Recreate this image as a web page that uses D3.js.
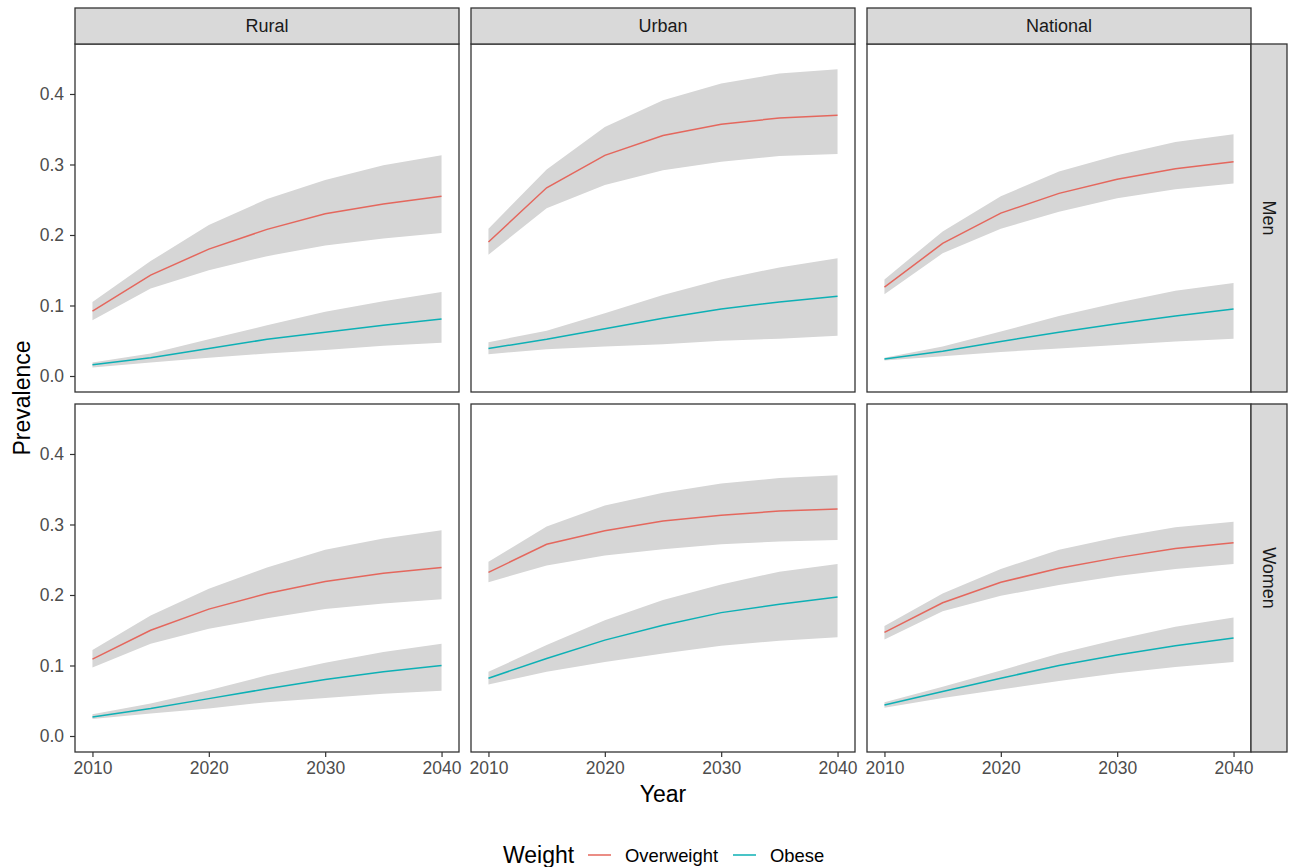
<!DOCTYPE html>
<html>
<head>
<meta charset="utf-8">
<script src="https://cdn.jsdelivr.net/npm/d3@7"></script>
<style>
  body { margin: 0; background: #fff; }
  text { font-family: "Liberation Sans", Arial, sans-serif; }
</style>
</head>
<body>
<div id="chart"></div>
<script>
// years modelled
var years = [2010, 2015, 2020, 2025, 2030, 2035, 2040];
var areas = ["Rural", "Urban", "National"];
var sexes = ["Men", "Women"];
var yTicks = [0.0, 0.1, 0.2, 0.3, 0.4];
var xTicks = [2010, 2020, 2030, 2040];

// men - overweight (mean, lower, upper)
var ruralMenOver    = [0.092, 0.143, 0.180, 0.208, 0.230, 0.244, 0.255];
var ruralMenOverLo  = [0.079, 0.124, 0.150, 0.170, 0.185, 0.195, 0.203];
var ruralMenOverHi  = [0.105, 0.163, 0.214, 0.251, 0.278, 0.299, 0.313];
var urbanMenOver    = [0.190, 0.267, 0.313, 0.341, 0.357, 0.366, 0.370];
var urbanMenOverLo  = [0.172, 0.238, 0.271, 0.292, 0.304, 0.312, 0.315];
var urbanMenOverHi  = [0.209, 0.293, 0.353, 0.391, 0.415, 0.429, 0.435];
var natMenOver      = [0.126, 0.188, 0.231, 0.259, 0.279, 0.294, 0.304];
var natMenOverLo    = [0.116, 0.174, 0.209, 0.233, 0.252, 0.265, 0.273];
var natMenOverHi    = [0.137, 0.205, 0.255, 0.290, 0.313, 0.332, 0.343];

// men - obese
var ruralMenObese   = [0.016, 0.026, 0.039, 0.052, 0.062, 0.072, 0.081];
var ruralMenObeseLo = [0.012, 0.019, 0.026, 0.032, 0.037, 0.043, 0.047];
var ruralMenObeseHi = [0.019, 0.032, 0.052, 0.072, 0.091, 0.106, 0.119];
var urbanMenObese   = [0.039, 0.052, 0.067, 0.082, 0.095, 0.105, 0.113];
var urbanMenObeseLo = [0.031, 0.038, 0.042, 0.045, 0.050, 0.053, 0.057];
var urbanMenObeseHi = [0.048, 0.064, 0.089, 0.115, 0.137, 0.154, 0.167];
var natMenObese     = [0.024, 0.035, 0.049, 0.062, 0.074, 0.085, 0.095];
var natMenObeseLo   = [0.022, 0.028, 0.034, 0.039, 0.044, 0.049, 0.053];
var natMenObeseHi   = [0.026, 0.042, 0.063, 0.085, 0.104, 0.121, 0.132];

// women - overweight
var ruralWomOver    = [0.109, 0.150, 0.180, 0.202, 0.219, 0.231, 0.239];
var ruralWomOverLo  = [0.097, 0.131, 0.152, 0.167, 0.180, 0.188, 0.194];
var ruralWomOverHi  = [0.122, 0.171, 0.209, 0.239, 0.264, 0.280, 0.292];
var urbanWomOver    = [0.232, 0.272, 0.291, 0.305, 0.313, 0.319, 0.322];
var urbanWomOverLo  = [0.218, 0.242, 0.256, 0.265, 0.272, 0.276, 0.278];
var urbanWomOverHi  = [0.247, 0.297, 0.327, 0.345, 0.358, 0.366, 0.370];
var natWomOver      = [0.147, 0.189, 0.218, 0.238, 0.253, 0.266, 0.274];
var natWomOverLo    = [0.137, 0.177, 0.199, 0.214, 0.227, 0.237, 0.244];
var natWomOverHi    = [0.156, 0.202, 0.237, 0.264, 0.282, 0.296, 0.304];

// women - obese
var ruralWomObese   = [0.027, 0.039, 0.053, 0.067, 0.080, 0.091, 0.100];
var ruralWomObeseLo = [0.024, 0.032, 0.039, 0.048, 0.054, 0.060, 0.064];
var ruralWomObeseHi = [0.031, 0.046, 0.065, 0.086, 0.104, 0.119, 0.131];
var urbanWomObese   = [0.082, 0.110, 0.136, 0.157, 0.175, 0.187, 0.197];
var urbanWomObeseLo = [0.073, 0.091, 0.105, 0.117, 0.128, 0.135, 0.140];
var urbanWomObeseHi = [0.091, 0.129, 0.164, 0.193, 0.215, 0.233, 0.244];
var natWomObese     = [0.044, 0.063, 0.082, 0.100, 0.115, 0.128, 0.139];
var natWomObeseLo   = [0.040, 0.054, 0.066, 0.078, 0.089, 0.098, 0.105];
var natWomObeseHi   = [0.048, 0.070, 0.093, 0.117, 0.137, 0.155, 0.168];

var panels = {
  "Men": {
    "Rural":    [[ruralMenOver, ruralMenOverLo, ruralMenOverHi], [ruralMenObese, ruralMenObeseLo, ruralMenObeseHi]],
    "Urban":    [[urbanMenOver, urbanMenOverLo, urbanMenOverHi], [urbanMenObese, urbanMenObeseLo, urbanMenObeseHi]],
    "National": [[natMenOver, natMenOverLo, natMenOverHi], [natMenObese, natMenObeseLo, natMenObeseHi]]
  },
  "Women": {
    "Rural":    [[ruralWomOver, ruralWomOverLo, ruralWomOverHi], [ruralWomObese, ruralWomObeseLo, ruralWomObeseHi]],
    "Urban":    [[urbanWomOver, urbanWomOverLo, urbanWomOverHi], [urbanWomObese, urbanWomObeseLo, urbanWomObeseHi]],
    "National": [[natWomOver, natWomOverLo, natWomOverHi], [natWomObese, natWomObeseLo, natWomObeseHi]]
  }
};

var seriesNames = ["Overweight", "Obese"];
var colors = ["#e4675d", "#0db0b5"];

var width = 1291, height = 867;
var panelW = 384, panelH = 348, gap = 12;
var left0 = 75, top0 = 44, stripH = 36, stripW = 36;

var svg = d3.select("#chart").append("svg")
    .attr("width", width)
    .attr("height", height);

var x = d3.scaleLinear().domain([2008.5, 2041.5]).range([0, panelW]);
var y = d3.scaleLinear().domain([-0.0227, 0.4709]).range([panelH, 0]);

var line = d3.line()
    .x(function(d) { return x(d.year); })
    .y(function(d) { return y(d.v); });
var area = d3.area()
    .x(function(d) { return x(d.year); })
    .y0(function(d) { return y(d.lo); })
    .y1(function(d) { return y(d.hi); });

sexes.forEach(function(sex, r) {
  areas.forEach(function(ar, c) {
    var px = left0 + c * (panelW + gap);
    var py = top0 + r * (panelH + gap);
    var g = svg.append("g").attr("transform", "translate(" + px + "," + py + ")");

    g.append("rect").attr("width", panelW).attr("height", panelH).attr("fill", "#fff");

    panels[sex][ar].forEach(function(s, k) {
      var pts = years.map(function(yr, i) { return {year: yr, v: s[0][i], lo: s[1][i], hi: s[2][i]}; });
      g.append("path").datum(pts)
        .attr("d", area)
        .attr("fill", "#d6d6d6");
      g.append("path").datum(pts)
        .attr("d", line)
        .attr("fill", "none")
        .attr("stroke", colors[k])
        .attr("stroke-width", 1.5);
    });

    g.append("rect").attr("width", panelW).attr("height", panelH)
      .attr("fill", "none").attr("stroke", "#333").attr("stroke-width", 1.3);

    // y axis on first column
    if (c === 0) {
      var ya = g.append("g").call(d3.axisLeft(y).tickValues(yTicks).tickFormat(d3.format(".1f")).tickSize(5).tickPadding(6));
      ya.select(".domain").remove();
      ya.selectAll("line").attr("stroke", "#333").attr("stroke-width", 1.2);
      ya.selectAll("text").attr("fill", "#4d4d4d").style("font-size", "17.5px");
    }
    // x axis on bottom row
    if (r === sexes.length - 1) {
      var xa = g.append("g").attr("transform", "translate(0," + panelH + ")")
        .call(d3.axisBottom(x).tickValues(xTicks).tickFormat(d3.format("d")).tickSize(5).tickPadding(5));
      xa.select(".domain").remove();
      xa.selectAll("line").attr("stroke", "#333").attr("stroke-width", 1.2);
      xa.selectAll("text").attr("fill", "#4d4d4d").style("font-size", "17.5px");
    }
    // column strips
    if (r === 0) {
      var st = svg.append("g").attr("transform", "translate(" + px + "," + (top0 - stripH) + ")");
      st.append("rect").attr("width", panelW).attr("height", stripH)
        .attr("fill", "#d9d9d9").attr("stroke", "#333").attr("stroke-width", 1.3);
      st.append("text").attr("x", panelW / 2).attr("y", stripH / 2)
        .attr("text-anchor", "middle").attr("dominant-baseline", "central")
        .attr("fill", "#1a1a1a").style("font-size", "18px").text(ar);
    }
    // row strips
    if (c === areas.length - 1) {
      var rs = svg.append("g").attr("transform", "translate(" + (px + panelW) + "," + py + ")");
      rs.append("rect").attr("width", stripW).attr("height", panelH)
        .attr("fill", "#d9d9d9").attr("stroke", "#333").attr("stroke-width", 1.3);
      rs.append("text")
        .attr("transform", "translate(" + (stripW / 2) + "," + (panelH / 2) + ") rotate(90)")
        .attr("text-anchor", "middle").attr("dominant-baseline", "central")
        .attr("fill", "#1a1a1a").style("font-size", "18px").text(sex);
    }
  });
});

// axis titles
svg.append("text").attr("x", left0 + (3 * panelW + 2 * gap) / 2).attr("y", 802)
  .attr("text-anchor", "middle").style("font-size", "23px").attr("fill", "#000").text("Year");
svg.append("text")
  .attr("transform", "translate(30," + (top0 + panelH + gap / 2) + ") rotate(-90)")
  .attr("text-anchor", "middle").style("font-size", "23px").attr("fill", "#000").text("Prevalence");

// legend
var lg = svg.append("g").attr("transform", "translate(503,855)");
lg.append("text").attr("x", 0).attr("y", 0).attr("dominant-baseline", "central")
  .style("font-size", "23px").attr("fill", "#000").text("Weight");
var keyX = [85, 230];
seriesNames.forEach(function(nm, k) {
  lg.append("line").attr("x1", keyX[k]).attr("x2", keyX[k] + 23)
    .attr("y1", 0).attr("y2", 0)
    .attr("stroke", colors[k]).attr("stroke-width", 1.5);
  lg.append("text").attr("x", keyX[k] + 37).attr("y", 0).attr("dominant-baseline", "central")
    .style("font-size", "18.4px").attr("fill", "#000").text(nm);
});
</script>
</body>
</html>
